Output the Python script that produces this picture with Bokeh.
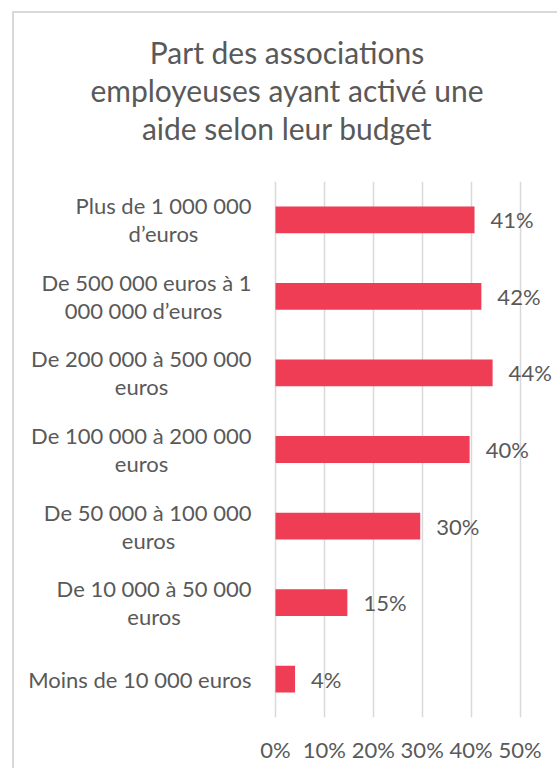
from bokeh.plotting import figure
from bokeh.models import Range1d, FixedTicker, ColumnDataSource, Title
from bokeh.core.properties import value
from bokeh.embed import file_html
from bokeh.resources import INLINE

title_lines = ["Part des associations", "employeuses ayant activé une", "aide selon leur budget"]
categories = [
    "Moins de 10 000 euros",
    "De 10 000 à 50 000\neuros",
    "De 50 000 à 100 000\neuros",
    "De 100 000 à 200 000\neuros",
    "De 200 000 à 500 000\neuros",
    "De 500 000 euros à 1\n000 000 d’euros",
    "Plus de 1 000 000\nd’euros",
]
values = [4.0, 14.7, 29.6, 39.7, 44.4, 42.1, 40.7]
value_labels = ["4%", "15%", "30%", "40%", "44%", "42%", "41%"]
x_ticks = [0, 10, 20, 30, 40, 50]
x_tick_labels = ["0%", "10%", "20%", "30%", "40%", "50%"]

FONT = "Lato"
TXT = "#595959"
BAR = "#F03D56"
FS = "22px"

# approximate rendered widths (px) of each label's first line at 22px Lato,
# used to centre the second line under the first one
first_w = [223, 195, 206, 220, 220, 216, 176]
GAP = 24
LINE_PX = 28

W, H = 545, 757
LEFT = 261            # canvas x of 0 %
PX_PER_PCT = 4.89
TOP, BOTTOM = 168, 53
x_start = -LEFT / PX_PER_PCT
x_end = (W - LEFT) / PX_PER_PCT
n = len(categories)
px_per_unit = (H - TOP - BOTTOM) / n
dy = (LINE_PX / 2) / px_per_unit

p = figure(width=W, height=H, output_backend="svg", toolbar_location=None,
           x_range=Range1d(x_start, x_end), y_range=Range1d(-0.5, n - 0.5),
           min_border_left=0, min_border_right=0, min_border_top=TOP, min_border_bottom=BOTTOM,
           margin=(11, 0, 0, 12),
           styles={"border-left": "2px solid #d9d9d9", "border-top": "2px solid #d9d9d9"})
p.outline_line_color = None
p.background_fill_color = "white"
p.border_fill_color = "white"

# spacer between the title block and the plot area
p.add_layout(Title(text=" ", text_font_size="1px", standoff=33), "above")
for line in reversed(title_lines):
    p.add_layout(Title(text=line, align="center", text_font=FONT,
                       text_font_size="30px", text_color=TXT, text_font_style="normal",
                       standoff=0, text_line_height=1.3), "above")

pos = list(range(n))
src = ColumnDataSource(dict(y=pos, v=values, lab=value_labels))
p.hbar(y="y", right="v", left=0, height=0.35, source=src, fill_color=BAR, line_color=None)
p.text(x="v", y="y", text="lab", source=src, x_offset=16, text_baseline="middle",
       text_align="left", text_font=value(FONT), text_font_size=FS, text_color=TXT)

# category labels: first line right-aligned to the axis, second line centred beneath it
l1_x, l1_y, l1_t, l2_x, l2_y, l2_t = [], [], [], [], [], []
for i, c in enumerate(categories):
    parts = c.split("\n")
    l1_x.append(-GAP / PX_PER_PCT)
    l1_t.append(parts[0])
    if len(parts) == 1:
        l1_y.append(i)
    else:
        l1_y.append(i + dy)
        l2_y.append(i - dy)
        l2_t.append(parts[1])
        l2_x.append(-(GAP + first_w[i] / 2) / PX_PER_PCT)
p.text(x=l1_x, y=l1_y, text=l1_t, text_baseline="middle", text_align="right",
       text_font=value(FONT), text_font_size=FS, text_color=TXT)
p.text(x=l2_x, y=l2_y, text=l2_t, text_baseline="middle", text_align="center",
       text_font=value(FONT), text_font_size=FS, text_color=TXT)

p.yaxis.visible = False

p.xaxis.ticker = FixedTicker(ticks=x_ticks)
p.xaxis.major_label_overrides = {t: l for t, l in zip(x_ticks, x_tick_labels)}
p.xaxis.axis_line_color = None
p.xaxis.major_tick_line_color = None
p.xaxis.minor_tick_line_color = None
p.xaxis.major_label_standoff = 12
p.xaxis.major_label_text_font = FONT
p.xaxis.major_label_text_font_size = FS
p.xaxis.major_label_text_color = TXT

p.ygrid.grid_line_color = None
p.xgrid.ticker = FixedTicker(ticks=x_ticks)
p.xgrid.grid_line_color = "#d9d9d9"
p.xgrid.grid_line_width = 1.5

open("out.html", "w").write(file_html(p, INLINE))
